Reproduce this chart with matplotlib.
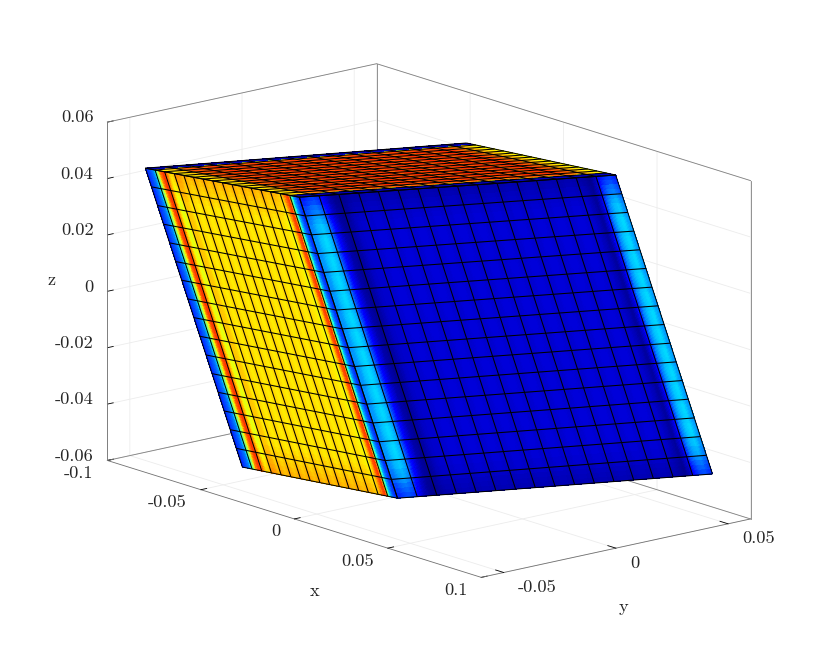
import numpy as np
import matplotlib
matplotlib.use('Agg')
import matplotlib.pyplot as plt
from mpl_toolkits.mplot3d import proj3d

# corners of the deformed block, (x, y, z)
top_left = (-0.0822, -0.0579, 0.047)
top_front = (-0.0192, -0.0418, 0.047)
top_right = (0.0298, 0.0584, 0.0477)
top_back = (-0.0361, 0.0468, 0.0474)
bot_left = (-0.0296, -0.0585, -0.048)
bot_front = (0.0367, -0.0446, -0.0477)
bot_right = (0.0824, 0.0577, -0.0473)

xlim = (-0.1, 0.1)
ylim = (-0.06, 0.06)
zlim = (-0.06, 0.06)
xticks = [-0.1, -0.05, 0, 0.05, 0.1]
yticks = [-0.05, 0, 0.05]
zticks = [-0.06, -0.04, -0.02, 0, 0.02, 0.04, 0.06]
xticklabels = ['-0.1', '-0.05', '0', '0.05', '0.1']
yticklabels = ['-0.05', '0', '0.05']
zticklabels = ['-0.06', '-0.04', '-0.02', '0', '0.02', '0.04', '0.06']

# colour value (jet, 0..1) across the 16 elements, 4 samples per element
left_profile = [
    .16, .19, .22, .26,  .45, .62, .80, .86,  .80, .68, .62, .64,  .70, .70, .69, .66,
    .69, .67, .655, .675,  .69, .67, .655, .675,  .69, .67, .655, .675,  .69, .67, .655, .675,
    .69, .67, .655, .675,  .69, .67, .655, .675,  .69, .67, .655, .675,  .69, .67, .655, .675,
    .69, .67, .655, .67,  .68, .67, .66, .65,  .63, .70, .82, .86,  .50, .30, .22, .17,
]
right_profile = [
    .27, .32, .34, .30,  .18, .09, .04, .02,  .035, .06, .07, .07,  .07, .08, .08, .07,
    .07, .08, .08, .07,  .07, .08, .08, .07,  .07, .08, .08, .07,  .07, .08, .08, .07,
    .07, .08, .08, .07,  .07, .08, .08, .07,  .07, .08, .08, .07,  .07, .08, .08, .07,
    .07, .08, .08, .07,  .07, .08, .08, .07,  .07, .05, .025, .09,  .25, .32, .34, .28,
]
right_rows = [
    .55, .60, .70, .75,  .85, .90, .95, .95,  .98, 1, 1, .99,  .98, 1, 1, .99,
    .98, 1, 1, .99,  .98, 1, 1, .99,  .98, 1, 1, .99,  .98, 1, 1, .99,
    .98, 1, 1, .99,  .98, 1, 1, .99,  .98, 1, 1, .99,  .98, 1, 1, .99,
    .98, 1, 1, .99,  .98, 1, 1, .99,  .95, .95, .90, .88,  .80, .72, .66, .60,
]
left_rows = [
    .05, .04, .03, .02,  .02, .01, 0, 0,  0, 0, 0, 0,  0, 0, 0, 0,
    0, 0, 0, 0,  0, 0, 0, 0,  0, 0, 0, 0,  0, 0, 0, 0,
    0, 0, 0, 0,  0, 0, 0, 0,  0, 0, 0, 0,  0, 0, 0, 0,
    0, 0, 0, 0,  0, 0, 0, 0,  0, 0, .01, .02,  .02, .03, .04, .05,
]
top_across = [
    .05, .05, .05, .06,  .74, .78, .82, .84,  .78, .85, .87, .81,  .78, .85, .87, .81,
    .78, .85, .87, .81,  .78, .85, .87, .81,  .78, .85, .87, .81,  .78, .85, .87, .81,
    .78, .85, .87, .81,  .78, .85, .87, .81,  .78, .85, .87, .81,  .78, .85, .87, .81,
    .78, .85, .87, .81,  .78, .85, .87, .81,  .82, .80, .76, .74,  .10, .08, .06, .05,
]
top_along = [
    .66, .68, .70, .72,  .78, .80, .82, .84,  .78, .85, .87, .81,  .78, .85, .87, .81,
    .78, .85, .87, .81,  .78, .85, .87, .81,  .78, .85, .87, .81,  .78, .85, .87, .81,
    .78, .85, .87, .81,  .78, .85, .87, .81,  .78, .85, .87, .81,  .78, .85, .87, .81,
    .78, .85, .87, .81,  .78, .85, .87, .81,  .84, .80, .76, .74,  .72, .68, .66, .64,
]

# grey box edges at the back of the axes
box_edges = [
    ((-0.1, -0.1, 0.1), (-0.06, 0.06, 0.06), (0.06, 0.06, 0.06)),
    ((-0.1, -0.1, 0.1), (-0.06, 0.06, 0.06), (-0.06, -0.06, -0.06)),
    ((-0.1, -0.1), (-0.06, -0.06), (-0.06, 0.06)),
    ((-0.1, -0.1), (0.06, 0.06), (-0.06, 0.06)),
    ((0.1, 0.1), (0.06, 0.06), (-0.06, 0.06)),
]

N_ROW = 64
N_COL = 256  # finer across the elements, so the shading looks smooth


def face_grid(c00, c10, c01, c11):
    # bilinear patch between four corners
    s, t = np.meshgrid(np.linspace(0, 1, N_COL + 1), np.linspace(0, 1, N_ROW + 1))
    c00, c10, c01, c11 = map(np.array, (c00, c10, c01, c11))
    return [(1 - s) * (1 - t) * c00[k] + s * (1 - t) * c10[k] + (1 - s) * t * c01[k] + s * t * c11[k]
            for k in range(3)]


def smooth(profile):
    # interpolated shading inside the elements, like shading interp
    src = (np.arange(len(profile)) + 0.5) / len(profile)
    dst = (np.arange(N_COL) + 0.5) / N_COL
    return np.interp(dst, src, profile)


def draw_face(ax, corners, values, order):
    X, Y, Z = face_grid(*corners)
    colors = plt.get_cmap('jet')(np.clip(values, 0, 1))
    ax.plot_surface(X, Y, Z, facecolors=colors, rstride=1, cstride=1, linewidth=0,
                    antialiased=False, shade=False, zorder=order)
    # element mesh, 16 x 16
    ax.plot_wireframe(X, Y, Z, rstride=N_ROW // 16, cstride=N_COL // 16, color='black',
                      linewidth=0.75, zorder=order + 3)


def label_at(ax, x, y, z, s, **kw):
    # flat text at the projected position of a data point
    px, py, _ = proj3d.proj_transform(x, y, z, ax.get_proj())
    ax.text2D(px, py, s, transform=ax.transData, color='#262626', va='center', **kw)


plt.rcParams['font.family'] = 'cmr10'
plt.rcParams['axes.unicode_minus'] = False
plt.rcParams['font.size'] = 13.2
plt.rcParams['grid.color'] = '#ececec'
plt.rcParams['grid.linewidth'] = 0.6

fig = plt.figure(figsize=(8.3, 6.65), dpi=100)
ax = fig.add_axes([69.5 / 830, -15 / 665, 700 / 830, 700 / 665], projection='3d', computed_zorder=False)
ax.set_proj_type('ortho')
ax.view_init(elev=15.1, azim=-39.8)
ax.set_box_aspect((0.2, 0.12, 0.12), zoom=1.0623)
ax.set_xlim(*xlim, view_margin=0)
ax.set_ylim(*ylim, view_margin=0)
ax.set_zlim(*zlim, view_margin=0)

left_v = smooth(left_profile)[None, :].repeat(N_ROW, axis=0)
shift = np.array(left_rows)[:, None]
left_v = np.where((left_v > 0.6) & (left_v < 0.76), left_v + shift, left_v)
right_v = np.array(right_rows)[:, None] * smooth(right_profile)[None, :]
across = smooth(top_across)[None, :].repeat(N_ROW, axis=0)
along = np.array(top_along)[:, None].repeat(N_COL, axis=1)
top_v = np.where(across < 0.3, across, np.where(along < 0.76, along, 0.5 * (across + along)))

draw_face(ax, (top_left, top_front, top_back, top_right), top_v, 1)
draw_face(ax, (top_left, top_front, bot_left, bot_front), left_v, 2)
draw_face(ax, (top_front, top_right, bot_front, bot_right), right_v, 3)

for xs, ys, zs in box_edges:
    ax.plot(xs, ys, zs, color='#808080', linewidth=0.6, zorder=0)

ax.set_xticks(xticks)
ax.set_yticks(yticks)
ax.set_zticks(zticks)
ax.set_xticklabels([])
ax.set_yticklabels([])
ax.set_zticklabels([])
ax.zaxis.set_ticks_position('lower')
ax.zaxis.set_label_position('lower')

for axis in (ax.xaxis, ax.yaxis, ax.zaxis):
    axis.set_pane_color((1, 1, 1, 1))
    axis.pane.set_edgecolor((1, 1, 1, 0))
    axis.line.set_color('#707070')
    axis.line.set_linewidth(0.6)
    axis._axinfo['tick']['inward_factor'] = 0.0
    axis._axinfo['tick']['outward_factor'] = 0.27
    axis._axinfo['tick']['color'] = '#707070'
    axis._axinfo['tick']['linewidth'] = {True: 0.6, False: 0.4}

# tick labels and axis titles sit at fixed offsets from the box, matlab style
for val, lab in zip(xticks, xticklabels):
    label_at(ax, val, ylim[0] - 0.00624, zlim[0] - 0.0035, lab, ha='right')
for val, lab in zip(yticks, yticklabels):
    label_at(ax, xlim[1] + 0.00775, val, zlim[0] - 0.0037, lab, ha='left')
for val, lab in zip(zticks, zticklabels):
    label_at(ax, xlim[0] - 0.0075, ylim[0], val, lab, ha='right')
label_at(ax, 0.0107, ylim[0], -0.0833, 'x', ha='center')
label_at(ax, xlim[1], 0.00335, -0.0814, 'y', ha='center')
label_at(ax, -0.13, ylim[0], -0.0024, 'z', ha='center')

fig.savefig('out.png', dpi=100)
